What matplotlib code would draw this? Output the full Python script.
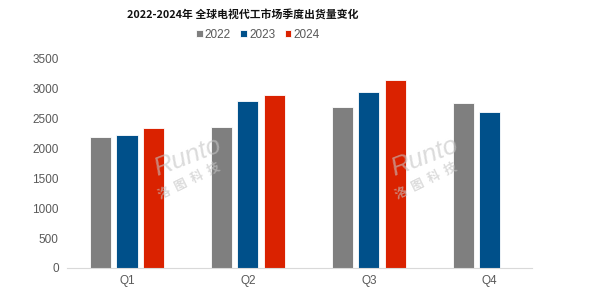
import numpy as np
import matplotlib
matplotlib.use('Agg')
import matplotlib.pyplot as plt

plt.rcParams['font.family'] = ['Liberation Sans', 'Noto Sans CJK SC', 'DejaVu Sans']

quarters = ['Q1', 'Q2', 'Q3', 'Q4']
years = ['2022', '2023', '2024']
v2022 = [2200, 2360, 2700, 2760]
v2023 = [2225, 2795, 2950, 2615]
v2024 = [2350, 2900, 3140, np.nan]
title = '2022-2024年 全球电视代工市场季度出货量变化'

colors = ['#7F7F7F', '#00508A', '#DA2200']


def main():
    fig = plt.figure(figsize=(6, 2.88), dpi=100)
    ax = fig.add_axes([67 / 600, 1 - 268 / 288, 465 / 600, 209 / 288])

    x = np.arange(len(quarters))
    width = 0.175
    step = 0.219
    for i, (vals, c, y) in enumerate(zip([v2022, v2023, v2024], colors, years)):
        ax.bar(x + (i - 1) * step, vals, width, color=c, edgecolor='white',
               linewidth=0.6, label=y, zorder=2)

    ax.set_ylim(0, 3500)
    ax.set_xlim(-0.496, 3.35)
    ax.set_yticks(range(0, 3501, 500))
    ax.set_xticks(x)
    ax.set_xticklabels(quarters)
    ax.tick_params(axis='both', length=0, labelsize=8.5, colors='#595959')
    ax.tick_params(axis='y', pad=6)
    ax.tick_params(axis='x', pad=5)
    for s in ['top', 'right', 'left']:
        ax.spines[s].set_visible(False)
    ax.spines['bottom'].set_color('#D9D9D9')
    ax.spines['bottom'].set_linewidth(0.8)

    fig.text(0.405, 1 - 14 / 288, title, ha='center', va='center',
             fontsize=7.8, fontweight='bold', color='#111111',
             family=['Noto Sans CJK SC', 'DejaVu Sans'])

    leg = fig.legend(loc='center', bbox_to_anchor=(258 / 600, 1 - 35 / 288),
                     ncol=3, frameon=False, fontsize=8.5, handlelength=0.55,
                     handleheight=0.55, handletextpad=0.2, columnspacing=0.8)
    for t in leg.get_texts():
        t.set_color('#595959')

    # watermark
    for wx in [0.313, 0.707]:
        fig.text(wx, 0.455, 'Runto', rotation=21, fontsize=19, style='italic',
                 color='#C4C4C4', alpha=0.6, ha='center', va='center')
        fig.text(wx + 0.003, 0.372, '洛  图  科  技', rotation=26, fontsize=9,
                 fontweight='bold', color='#C4C4C4', alpha=0.6,
                 ha='center', va='center', family=['Noto Sans CJK SC'])

    fig.savefig('out.png', dpi=100)
    plt.close(fig)


if __name__ == "__main__":
    main()
